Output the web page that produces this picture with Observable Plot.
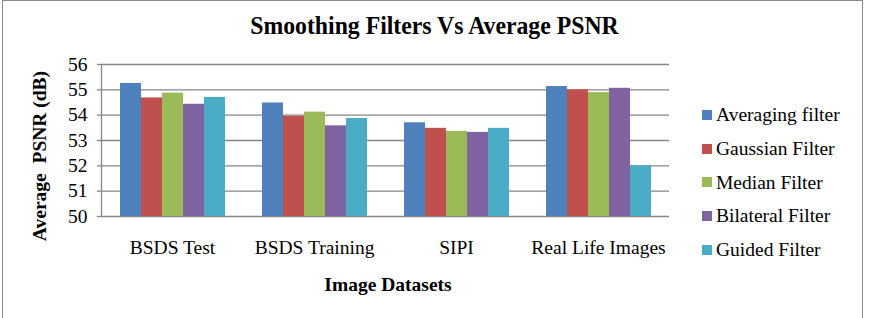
<!DOCTYPE html>
<html>
<head>
<meta charset="utf-8">
<script src="https://cdn.jsdelivr.net/npm/d3@7"></script>
<script src="https://cdn.jsdelivr.net/npm/@observablehq/plot@0.6"></script>
<style>
  html, body { margin: 0; padding: 0; background: #fff; }
  #chart { position: relative; width: 869px; height: 318px; overflow: hidden; font-family: "Liberation Serif", serif; color: #000; }
  #border { position: absolute; left: 2px; top: 0px; width: 861px; height: 330px; border: 1.5px solid #8a8a8a; box-sizing: border-box; }
  #chart svg { position: absolute; left: 0; top: 0; }
  .title { position: absolute; left: 0; top: 13px; width: 869px; text-align: center; font-size: 25px; line-height: 25px; font-weight: bold; transform: scaleX(0.95); transform-origin: 434px 0; white-space: pre; }
  .xlabel { position: absolute; left: 288px; top: 275px; width: 200px; text-align: center; font-size: 19.5px; line-height: 19.5px; font-weight: bold; white-space: pre; }
  .ylabel { position: absolute; left: 40px; top: 156px; font-size: 19.5px; line-height: 19.5px; font-weight: bold; white-space: pre; transform: translate(-50%, -50%) rotate(-90deg); }
  .legend { position: absolute; left: 702px; top: 98px; display: flex; flex-direction: column; }
  .legend .row { height: 33.75px; line-height: 33.75px; font-size: 19.5px; display: flex; align-items: center; white-space: pre; }
  .legend .sw { width: 10px; height: 10px; margin-right: 4px; flex: none; }
</style>
</head>
<body>
<div id="chart">
  <div id="border"></div>
</div>
<script>
// Image datasets on the category axis
const datasets = ["BSDS Test", "BSDS Training", "SIPI", "Real Life Images"];
// Smoothing filters (series)
const filters = ["Averaging filter", "Gaussian Filter", "Median Filter", "Bilateral Filter", "Guided Filter"];
// Average PSNR (dB) per dataset, one array per filter
const averaging = [55.25, 54.48, 53.70, 55.13];
const gaussian  = [54.68, 53.95, 53.48, 55.00];
const median    = [54.87, 54.12, 53.36, 54.89];
const bilateral = [54.43, 53.58, 53.32, 55.06];
const guided    = [54.70, 53.87, 53.48, 52.00];
const yTicks = [50, 51, 52, 53, 54, 55, 56];
const colors = ["#4f81bd", "#c0504d", "#9bbb59", "#8064a2", "#4bacc6"];

const series = [averaging, gaussian, median, bilateral, guided];
const rows = [];
datasets.forEach((d, i) => {
  filters.forEach((f, j) => rows.push({dataset: d, filter: f, value: series[j][i]}));
});

const grey = "#868686";
const serif = "'Liberation Serif', serif";

const plot = Plot.plot({
  width: 869,
  height: 318,
  marginLeft: 100,
  marginRight: 199,
  marginTop: 64,
  marginBottom: 102,
  style: {fontFamily: serif, color: "#000", background: "transparent"},
  fx: {domain: datasets, padding: 0, label: null},
  x: {domain: filters, paddingInner: 0, paddingOuter: 0.79, axis: null},
  y: {domain: [50, 56], label: null},
  color: {domain: filters, range: colors},
  marks: [
    Plot.gridY(yTicks, {stroke: grey, strokeOpacity: 1, strokeWidth: 1.3}),
    Plot.barY(rows, {fx: "dataset", x: "filter", y1: 50, y2: "value", fill: "filter"}),
    Plot.frame({anchor: "left", facetAnchor: "left", stroke: grey, strokeWidth: 1.3}),
    Plot.axisY(yTicks, {tickSize: 4, tickPadding: 10, stroke: grey, strokeWidth: 1.3, fontSize: 19.5, fontFamily: serif, fill: "#000", label: null, tickFormat: d => String(d)}),
    Plot.axisFx({anchor: "bottom", tickSize: 0, tickPadding: 24, fontSize: 19.5, fontFamily: serif, fill: "#000", label: null})
  ]
});

const chart = document.getElementById("chart");
chart.appendChild(plot);

const title = document.createElement("div");
title.className = "title";
title.textContent = "Smoothing Filters Vs Average PSNR";
chart.appendChild(title);

const xl = document.createElement("div");
xl.className = "xlabel";
xl.textContent = "Image Datasets";
chart.appendChild(xl);

const yl = document.createElement("div");
yl.className = "ylabel";
yl.textContent = "Average  PSNR (dB)";
chart.appendChild(yl);

const legend = document.createElement("div");
legend.className = "legend";
filters.forEach((f, i) => {
  const row = document.createElement("div");
  row.className = "row";
  const sw = document.createElement("span");
  sw.className = "sw";
  sw.style.background = colors[i];
  const label = document.createElement("span");
  label.textContent = f;
  row.appendChild(sw);
  row.appendChild(label);
  legend.appendChild(row);
});
chart.appendChild(legend);
</script>
</body>
</html>
